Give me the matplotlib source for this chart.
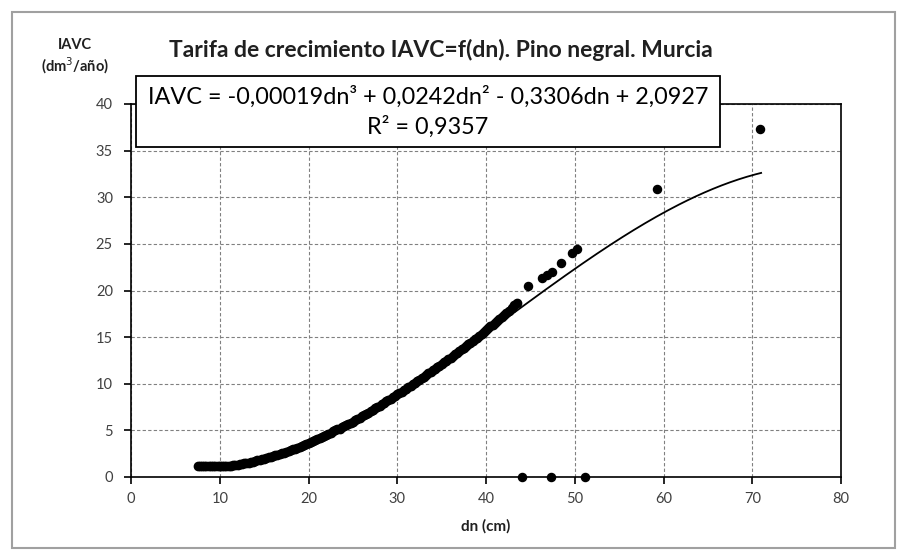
import matplotlib
matplotlib.use("Agg")
import matplotlib.pyplot as plt
from matplotlib.patches import Rectangle
import numpy as np

plt.rcParams['font.family'] = ['Lato', 'DejaVu Sans']

# dense band of observations (dn in cm, IAVC in dm3/year)
dn_obs = [7.5, 7.75, 8.0, 8.25, 8.5, 8.75, 9.0, 9.25, 9.5, 9.75, 10.0, 10.25, 10.5, 10.75,
          11.0, 11.25, 11.5, 11.75, 12.0, 12.25, 12.5, 12.75, 13.0, 13.25, 13.5, 13.75,
          14.0, 14.25, 14.5, 14.75, 15.0, 15.25, 15.5, 15.75, 16.0, 16.25, 16.5, 16.75,
          17.0, 17.25, 17.5, 17.75, 18.0, 18.25, 18.5, 18.75, 19.0, 19.25, 19.5, 19.75,
          20.0, 20.25, 20.5, 20.75, 21.0, 21.25, 21.5, 21.75, 22.0, 22.25, 22.5, 22.75,
          23.0, 23.25, 23.5, 23.75, 24.0, 24.25, 24.5, 24.75, 25.0, 25.25, 25.5, 25.75,
          26.0, 26.25, 26.5, 26.75, 27.0, 27.25, 27.5, 27.75, 28.0, 28.25, 28.5, 28.75,
          29.0, 29.25, 29.5, 29.75, 30.0, 30.25, 30.5, 30.75, 31.0, 31.25, 31.5, 31.75,
          32.0, 32.25, 32.5, 32.75, 33.0, 33.25, 33.5, 33.75, 34.0, 34.25, 34.5, 34.75,
          35.0, 35.25, 35.5, 35.75, 36.0, 36.25, 36.5, 36.75, 37.0, 37.25, 37.5, 37.75,
          38.0, 38.25, 38.5, 38.75, 39.0, 39.25, 39.5, 39.75, 40.0, 40.25, 40.5, 40.75,
          41.0, 41.25, 41.5, 41.75, 42.0, 42.3, 42.6, 42.9, 43.2, 43.5]
iavc_obs = [1.2, 1.2, 1.15, 1.15, 1.15, 1.15, 1.15, 1.15, 1.15, 1.15, 1.15, 1.15, 1.15, 1.18,
            1.2, 1.22, 1.25, 1.28, 1.3, 1.35, 1.4, 1.45, 1.5, 1.55, 1.6, 1.65,
            1.7, 1.78, 1.85, 1.9, 1.95, 2.02, 2.1, 2.18, 2.25, 2.32, 2.4, 2.48,
            2.55, 2.62, 2.7, 2.8, 2.9, 2.98, 3.05, 3.15, 3.25, 3.35, 3.45, 3.55,
            3.65, 3.75, 3.85, 3.95, 4.05, 4.18, 4.3, 4.4, 4.5, 4.62, 4.75, 4.88,
            5.0, 5.1, 5.2, 5.32, 5.45, 5.58, 5.7, 5.82, 5.95, 6.1, 6.25, 6.38,
            6.5, 6.62, 6.75, 6.9, 7.05, 7.2, 7.35, 7.5, 7.65, 7.8, 7.95, 8.1,
            8.25, 8.4, 8.55, 8.7, 8.85, 9.0, 9.15, 9.3, 9.45, 9.62, 9.8, 9.95,
            10.1, 10.28, 10.45, 10.6, 10.75, 10.92, 11.1, 11.28, 11.45, 11.62, 11.8, 11.95,
            12.1, 12.28, 12.45, 12.62, 12.8, 12.98, 13.15, 13.32, 13.5, 13.68, 13.85, 14.05,
            14.25, 14.42, 14.6, 14.78, 14.95, 15.15, 15.35, 15.55, 15.75, 15.95, 16.15, 16.35,
            16.55, 16.75, 16.95, 17.15, 17.35, 17.6, 17.85, 18.1, 18.4, 18.7]

# sparse larger trees
dn_big = [44.7, 46.3, 46.9, 47.4, 48.4, 49.7, 50.3, 59.3, 70.9, 44.1, 47.3, 51.1]
iavc_big = [20.5, 21.3, 21.7, 22.0, 22.9, 24.0, 24.4, 30.9, 37.3, 0.0, 0.0, 0.0]

# third degree trend line coefficients (as printed in the chart)
trend_coef = [-0.00019, 0.0242, -0.3306, 2.0927]
trend_range = [7.5, 71.0]

x_ticks = [0, 10, 20, 30, 40, 50, 60, 70, 80]
y_ticks = [0, 5, 10, 15, 20, 25, 30, 35, 40]

fig = plt.figure(figsize=(9.05, 5.6), dpi=100)
ax = fig.add_axes([131 / 905, 1 - 477 / 560, 710 / 905, 373 / 560])

ax.scatter(dn_obs, iavc_obs, s=36, color='black', zorder=3, clip_on=False)
ax.scatter(dn_big, iavc_big, s=34, color='black', zorder=3, clip_on=False)

xt = np.linspace(trend_range[0], trend_range[1], 200)
ax.plot(xt, np.polyval(trend_coef, xt), color='black', lw=1.3, zorder=4)

ax.set_xlim(0, 80)
ax.set_ylim(0, 40)
ax.set_xticks(x_ticks)
ax.set_yticks(y_ticks)
ax.tick_params(labelsize=10.5, labelcolor='#404040', length=5, width=1.2, direction='out')
ax.tick_params(axis='y', pad=8)
ax.tick_params(axis='x', pad=6)
ax.grid(True, color='#808080', linestyle=(0, (3, 2)), lw=0.8)
ax.set_axisbelow(True)
for sp in ax.spines.values():
    sp.set_color('black')
    sp.set_linewidth(1.2)

ax.set_xlabel('dn (cm)', fontsize=11, fontweight='bold', color='#202020', labelpad=9)

fig.text(75 / 905, 0.912, 'IAVC', ha='center', fontsize=10.5, fontweight='bold', color='#202020')
fig.text(75 / 905, 0.873, '(dm$^{3}$/año)', ha='center', fontsize=10.5, fontweight='bold', color='#202020')

fig.text(0.487, 0.898, 'Tarifa de crecimiento IAVC=f(dn). Pino negral. Murcia',
         ha='center', fontsize=16.5, fontweight='bold', color='#202020')

# equation box
fig.patches.append(Rectangle((136 / 905, 1 - 147 / 560), 584 / 905, 71 / 560,
                             transform=fig.transFigure, facecolor='white',
                             edgecolor='black', lw=1.3, zorder=5))
fig.text(428 / 905, 1 - 97 / 560, 'IAVC = -0,00019dn³ + 0,0242dn² - 0,3306dn + 2,0927',
         ha='center', va='center', fontsize=16.8, color='black', zorder=6)
fig.text(428 / 905, 1 - 127 / 560, 'R² = 0,9357',
         ha='center', va='center', fontsize=16.8, color='black', zorder=6)

# outer chart border
fig.patches.append(Rectangle((12 / 905, 12 / 560), 883 / 905, 536 / 560,
                             transform=fig.transFigure, facecolor='none',
                             edgecolor='#a0a0a0', lw=1.5))

fig.savefig('out.png', dpi=100)
